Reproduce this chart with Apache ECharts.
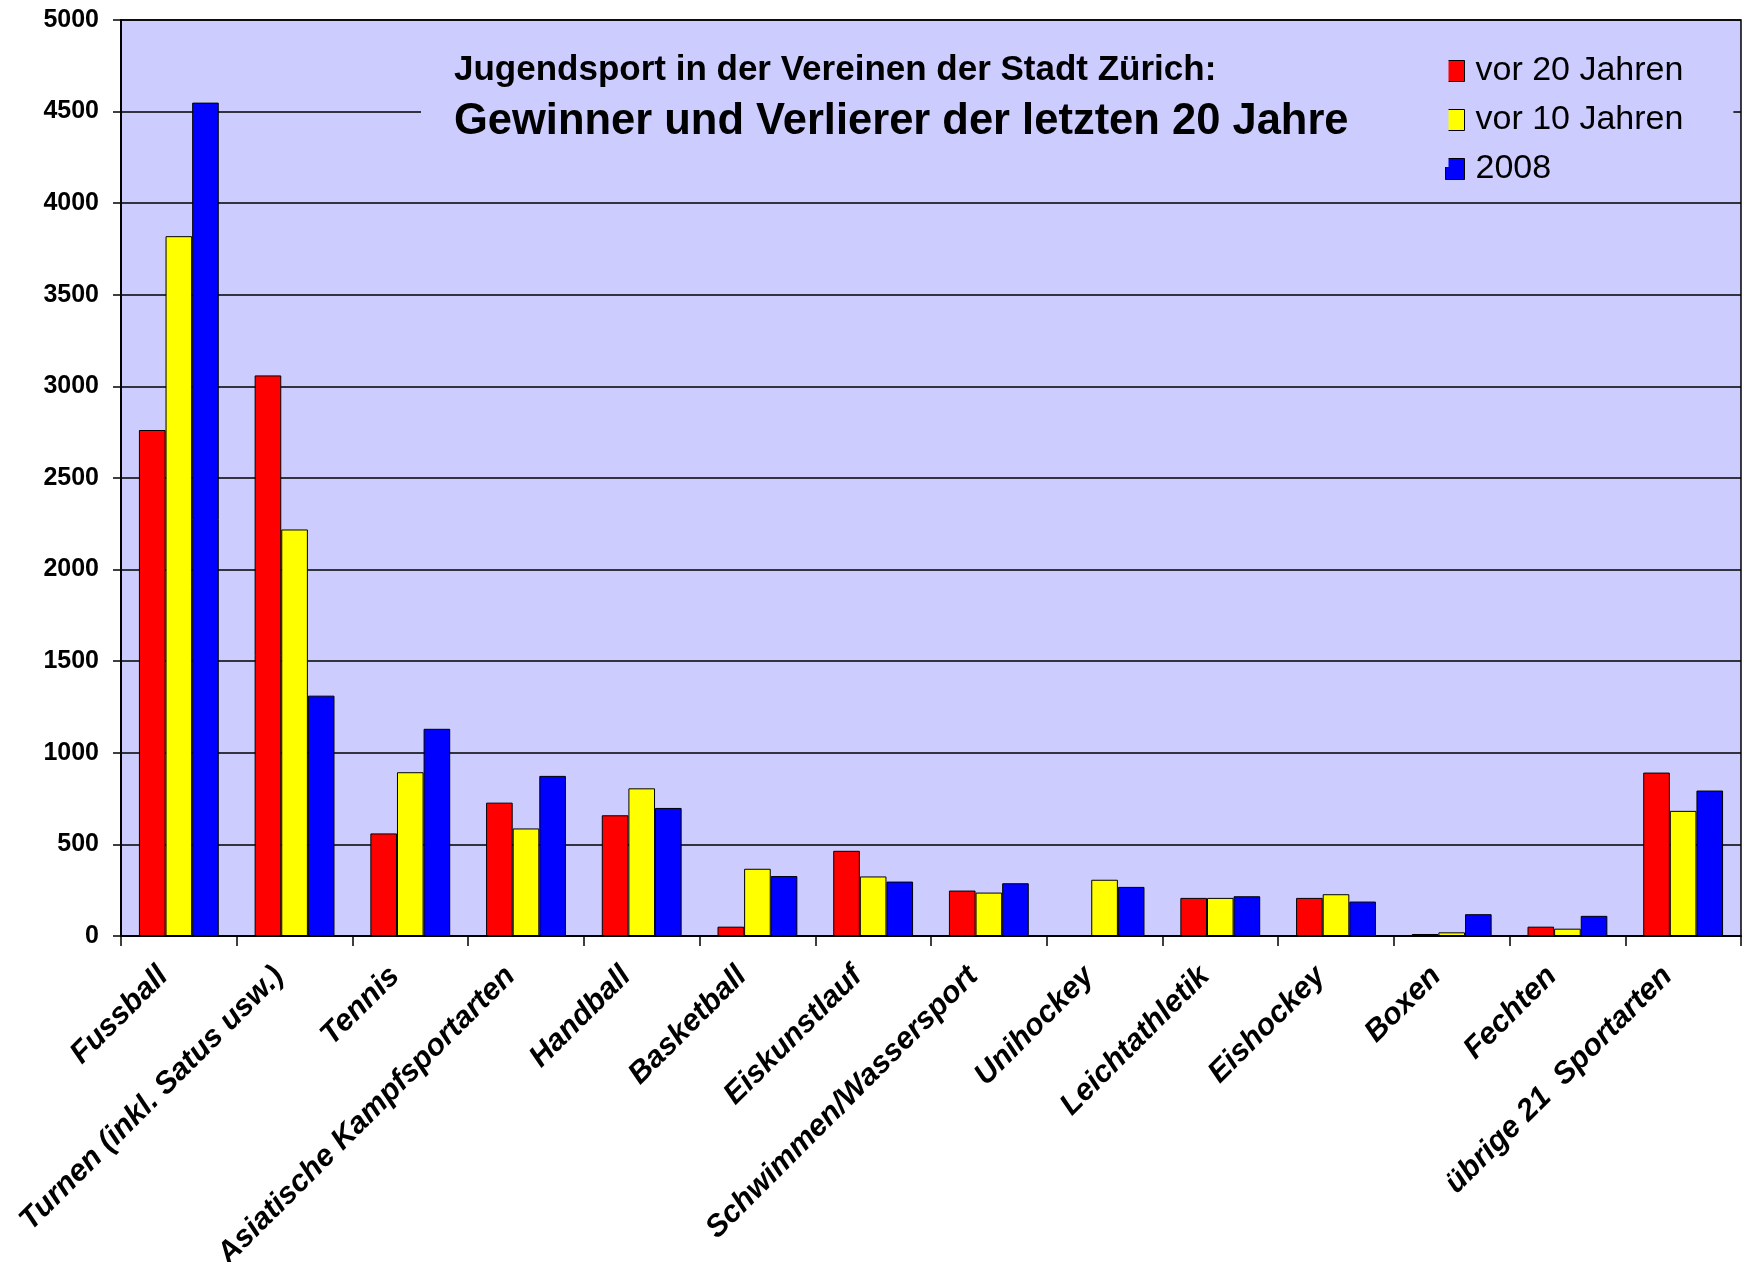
<!DOCTYPE html>
<html>
<head>
<meta charset="utf-8">
<script src="https://cdn.jsdelivr.net/npm/echarts@6/dist/echarts.min.js"></script>
<style>
  html, body { margin: 0; padding: 0; background: #fff; }
  #chart { width: 1750px; height: 1262px; }
</style>
</head>
<body>
<div id="chart"></div>
<script>
  // Sportarten (x-Achse)
  var categories = [
    'Fussball', 'Turnen (inkl. Satus usw.)', 'Tennis', 'Asiatische Kampfsportarten',
    'Handball', 'Basketball', 'Eiskunstlauf', 'Schwimmen/Wassersport', 'Unihockey',
    'Leichtathletik', 'Eishockey', 'Boxen', 'Fechten', 'übrige 21  Sportarten'
  ]
  var seriesNames = ['vor 20 Jahren', 'vor 10 Jahren', '2008']
  var vor20 = [2762, 3060, 560, 728, 659, 51, 465, 248, 0, 208, 208, 11, 51, 892]
  var vor10 = [3820, 2219, 894, 587, 806, 367, 325, 237, 307, 208, 228, 20, 40, 683]
  var jahr2008 = [4549, 1312, 1131, 874, 699, 327, 297, 288, 268, 217, 188, 119, 110, 794]
  var yTicks = { min: 0, max: 5000, interval: 500 }
  var colors = ['#ff0000', '#ffff00', '#0000ff']

  var font = '"Liberation Sans", Arial, sans-serif'
  var chart = echarts.init(document.getElementById('chart'))

  var data = [vor20, vor10, jahr2008]
  var series = []
  data.forEach(function (values, i) {
    series.push({
      name: seriesNames[i],
      type: 'bar',
      data: values,
      barGap: 0,
      barCategoryGap: '31%',
      itemStyle: { color: colors[i], borderColor: '#000', borderWidth: 1 },
    })
  })

  var option = {
    animation: false,
    backgroundColor: '#fff',
    color: colors,
    textStyle: { fontFamily: font },
    grid: {
      left: 121,
      right: 9,
      top: 20,
      bottom: 326,
      containLabel: false,
      outerBoundsMode: 'none',
      show: true,
      backgroundColor: '#ccccff',
      borderColor: '#000',
      borderWidth: 1.5,
    },
    title: {
      text: 'Jugendsport in der Vereinen der Stadt Zürich:',
      subtext: 'Gewinner und Verlierer der letzten 20 Jahre',
      left: 421,
      top: 30,
      padding: [20, 100, 20, 33],
      itemGap: 7,
      backgroundColor: '#ccccff',
      textStyle: { fontFamily: font, fontWeight: 'bold', fontSize: 35, color: '#000', lineHeight: 40 },
      subtextStyle: { fontFamily: font, fontWeight: 'bold', fontSize: 43.5, color: '#000', lineHeight: 50 },
    },
    legend: {
      orient: 'vertical',
      left: 1436,
      top: 36,
      padding: [18, 50, 8, 9],
      backgroundColor: '#ccccff',
      itemWidth: 19,
      itemHeight: 21,
      itemGap: 15,
      icon: 'rect',
      itemStyle: { borderColor: '#000', borderWidth: 1 },
      textStyle: { fontFamily: font, fontSize: 34, color: '#000', padding: [0, 0, 0, 6], lineHeight: 34 },
      data: seriesNames,
    },
    xAxis: {
      type: 'category',
      data: categories,
      axisLine: { lineStyle: { color: '#000', width: 2 } },
      axisTick: { show: true, length: 10, lineStyle: { color: '#000', width: 1.5 } },
      axisLabel: {
        interval: 0,
        rotate: 45,
        margin: 20,
        padding: [0, 22, 0, 0],
        fontFamily: font,
        fontSize: 30.5,
        fontWeight: 'bold',
        fontStyle: 'italic',
        color: '#000',
      },
    },
    yAxis: {
      type: 'value',
      min: yTicks.min,
      max: yTicks.max,
      interval: yTicks.interval,
      axisLine: { show: true, lineStyle: { color: '#000', width: 2 } },
      axisTick: { show: true, length: 8, lineStyle: { color: '#000', width: 1.5 } },
      axisLabel: {
        margin: 22,
        fontFamily: font,
        fontSize: 25,
        fontWeight: 'bold',
        color: '#000',
        formatter: function (v) { return String(v) },
      },
      splitLine: { lineStyle: { color: '#000', width: 1.5 } },
    },
    series: series,
  }
  chart.setOption(option)
</script>
</body>
</html>
